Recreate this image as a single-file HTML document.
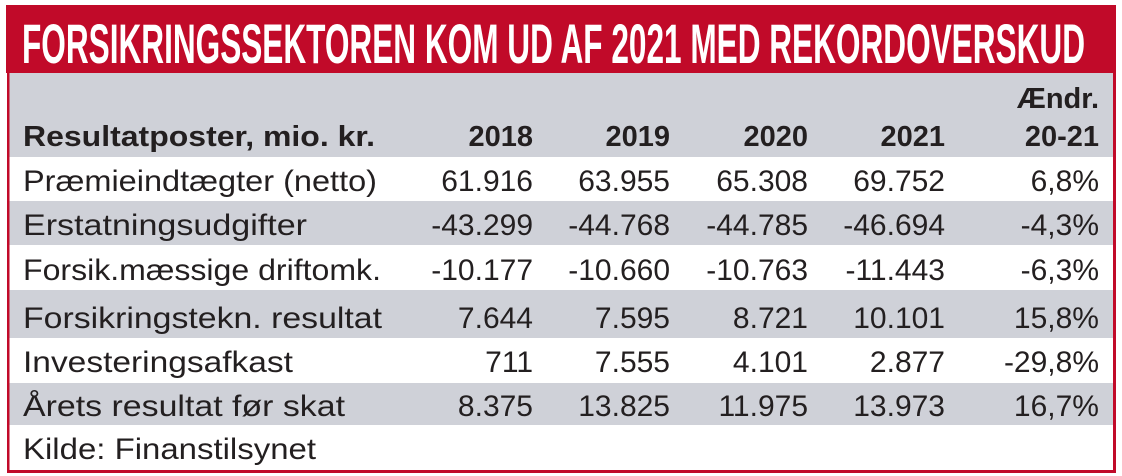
<!DOCTYPE html>
<html><head><meta charset="utf-8"><style>
html,body{margin:0;padding:0;background:#fff;}
svg{display:block;}
text{font-family:"Liberation Sans",sans-serif;fill:#231f20;}
</style></head><body>
<svg width="1122" height="476" viewBox="0 0 1122 476" xmlns="http://www.w3.org/2000/svg">
<rect x="0" y="0" width="1122" height="476" fill="#fff"/>
<rect x="6" y="5" width="1110" height="68" fill="#c10a29"/>
<rect x="8" y="73" width="1105" height="84" fill="#cfd1d8"/>
<rect x="8" y="201" width="1105" height="44" fill="#cfd1d8"/>
<rect x="8" y="290" width="1105" height="48" fill="#cfd1d8"/>
<rect x="8" y="383" width="1105" height="42" fill="#cfd1d8"/>
<rect x="7" y="5" width="2.5" height="468" fill="#c10a29"/>
<rect x="1113" y="5" width="3" height="468" fill="#c10a29"/>
<rect x="7" y="470" width="1109" height="3" fill="#c10a29"/>
<text x="22" y="63" font-size="56" font-weight="bold" style="fill:#fff" textLength="1063" lengthAdjust="spacingAndGlyphs">FORSIKRINGSSEKTOREN KOM UD AF 2021 MED REKORDOVERSKUD</text>
<g font-weight="bold" font-size="29">
<text x="23" y="146" textLength="352" lengthAdjust="spacingAndGlyphs">Resultatposter, mio. kr.</text>
<text x="533" y="146" text-anchor="end">2018</text>
<text x="670" y="146" text-anchor="end">2019</text>
<text x="808" y="146" text-anchor="end">2020</text>
<text x="945" y="146" text-anchor="end">2021</text>
<text x="1099" y="108" text-anchor="end">Ændr.</text>
<text x="1099" y="146" text-anchor="end">20-21</text>
</g>
<g font-size="30">
<text x="23" y="191" textLength="354" lengthAdjust="spacingAndGlyphs">Præmieindtægter (netto)</text>
<text x="533" y="191" text-anchor="end">61.916</text><text x="670" y="191" text-anchor="end">63.955</text><text x="808" y="191" text-anchor="end">65.308</text><text x="945" y="191" text-anchor="end">69.752</text><text x="1099" y="191" text-anchor="end">6,8%</text>
<text x="23" y="235" textLength="284" lengthAdjust="spacingAndGlyphs">Erstatningsudgifter</text>
<text x="533" y="235" text-anchor="end">-43.299</text><text x="670" y="235" text-anchor="end">-44.768</text><text x="808" y="235" text-anchor="end">-44.785</text><text x="945" y="235" text-anchor="end">-46.694</text><text x="1099" y="235" text-anchor="end">-4,3%</text>
<text x="23" y="280" textLength="358" lengthAdjust="spacingAndGlyphs">Forsik.mæssige driftomk.</text>
<text x="533" y="280" text-anchor="end">-10.177</text><text x="670" y="280" text-anchor="end">-10.660</text><text x="808" y="280" text-anchor="end">-10.763</text><text x="945" y="280" text-anchor="end">-11.443</text><text x="1099" y="280" text-anchor="end">-6,3%</text>
<text x="23" y="328" textLength="359" lengthAdjust="spacingAndGlyphs">Forsikringstekn. resultat</text>
<text x="533" y="328" text-anchor="end">7.644</text><text x="670" y="328" text-anchor="end">7.595</text><text x="808" y="328" text-anchor="end">8.721</text><text x="945" y="328" text-anchor="end">10.101</text><text x="1099" y="328" text-anchor="end">15,8%</text>
<text x="23" y="372" textLength="270" lengthAdjust="spacingAndGlyphs">Investeringsafkast</text>
<text x="533" y="372" text-anchor="end">711</text><text x="670" y="372" text-anchor="end">7.555</text><text x="808" y="372" text-anchor="end">4.101</text><text x="945" y="372" text-anchor="end">2.877</text><text x="1099" y="372" text-anchor="end">-29,8%</text>
<text x="23" y="416" textLength="322" lengthAdjust="spacingAndGlyphs">Årets resultat før skat</text>
<text x="533" y="416" text-anchor="end">8.375</text><text x="670" y="416" text-anchor="end">13.825</text><text x="808" y="416" text-anchor="end">11.975</text><text x="945" y="416" text-anchor="end">13.973</text><text x="1099" y="416" text-anchor="end">16,7%</text>
<text x="23" y="459" textLength="293" lengthAdjust="spacingAndGlyphs">Kilde: Finanstilsynet</text>
</g>
</svg>
</body></html>
